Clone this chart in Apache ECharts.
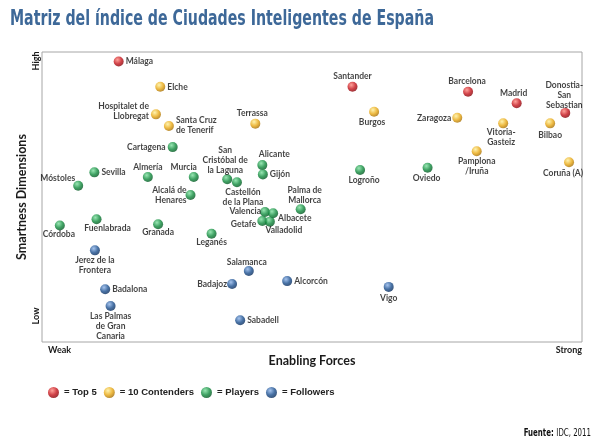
<!DOCTYPE html>
<html><head><meta charset="utf-8">
<script src="https://cdn.jsdelivr.net/npm/echarts@6/dist/echarts.min.js"></script>
<style>html,body{margin:0;padding:0;background:#fff}#c{width:600px;height:443px}</style>
</head><body><div id="c"></div>
<script>
// ---- data (x = Enabling Forces 0..10, y = Smartness Dimensions 0..10) ----
const seriesNames = ['Top 5', '10 Contenders', 'Players', 'Followers'];

const top5Cities = ['Málaga', 'Santander', 'Barcelona', 'Madrid', 'Donostia-\nSan\nSebastian'];
const top5X = [1.42, 5.75, 7.89, 8.79, 9.69];
const top5Y = [9.67, 8.80, 8.63, 8.23, 7.90];

const contenderCities = ['Elche', 'Hospitalet de\nLlobregat', 'Santa Cruz\nde Tenerif', 'Terrassa', 'Burgos',
  'Zaragoza', 'Vitoria-\nGasteiz', 'Bilbao', 'Pamplona\n/Iruña', 'Coruña (A)'];
const contenderX = [2.19, 2.11, 2.35, 3.95, 6.15, 7.69, 8.54, 9.41, 8.05, 9.76];
const contenderY = [8.80, 7.85, 7.45, 7.53, 7.94, 7.73, 7.54, 7.54, 6.58, 6.20];

const playerCities = ['Cartagena', 'Sevilla', 'Móstoles', 'Almería', 'Murcia', 'Alcalá de\nHenares',
  'San\nCristóbal de\nla Laguna', 'Castellón\nde la Plana', 'Alicante', 'Gijón', 'Palma de\nMallorca',
  'Valencia', 'Albacete', 'Getafe', 'Valladolid', 'Granada', 'Leganés', 'Córdoba', 'Fuenlabrada',
  'Logroño', 'Oviedo'];
const playerX = [2.42, 0.97, 0.67, 1.96, 2.81, 2.75, 3.43, 3.61, 4.08, 4.09, 4.79,
  4.13, 4.28, 4.08, 4.22, 2.15, 3.14, 0.33, 1.01, 5.89, 7.14];
const playerY = [6.72, 5.85, 5.39, 5.69, 5.69, 5.07, 5.61, 5.51, 6.10, 5.78, 4.58,
  4.48, 4.44, 4.17, 4.15, 4.06, 3.73, 4.02, 4.23, 5.93, 6.01];

const followerCities = ['Jerez de la\nFrontera', 'Badalona', 'Las Palmas\nde Gran\nCanaria', 'Salamanca',
  'Badajoz', 'Alcorcón', 'Sabadell', 'Vigo'];
const followerX = [0.98, 1.17, 1.27, 3.83, 3.52, 4.54, 3.67, 6.42];
const followerY = [3.16, 1.82, 1.24, 2.45, 2.00, 2.10, 0.75, 1.90];

// ---- label placement (style only) ----
const labelPlace = {
  'Málaga': ['right', 0, 0], 'Santander': ['top', 0, 1], 'Barcelona': ['top', -1, 2], 'Madrid': ['top', -3, 2],
  'Donostia-\nSan\nSebastian': ['top', -1, 4],
  'Elche': ['right', 0, 0], 'Hospitalet de\nLlobregat': ['left', 0, -3], 'Santa Cruz\nde Tenerif': ['right', 0, -1],
  'Terrassa': ['top', -3, 2], 'Burgos': ['bottom', -2, -1], 'Zaragoza': ['left', 1, 0],
  'Vitoria-\nGasteiz': ['bottom', -2, -3], 'Bilbao': ['bottom', 0, 0], 'Pamplona\n/Iruña': ['bottom', 0, -2],
  'Coruña (A)': ['bottom', -6, -1],
  'Cartagena': ['left', 0, 0], 'Sevilla': ['right', 0, 0], 'Móstoles': ['left', 4, -7], 'Almería': ['top', 0, 2],
  'Murcia': ['top', -10, 2], 'Alcalá de\nHenares': ['left', 3, 0], 'San\nCristóbal de\nla Laguna': ['top', -2, 3],
  'Castellón\nde la Plana': ['bottom', 6, -2], 'Alicante': ['top', 12, 1], 'Gijón': ['right', 0, 0],
  'Palma de\nMallorca': ['top', 4, 3], 'Valencia': ['left', 3, -1], 'Albacete': ['right', -2, 5],
  'Getafe': ['left', 1, 3], 'Valladolid': ['bottom', 14, -3], 'Granada': ['bottom', 0, -4],
  'Leganés': ['bottom', 0, -4], 'Córdoba': ['bottom', -1, -3], 'Fuenlabrada': ['bottom', 11, -3],
  'Logroño': ['bottom', 4, -2], 'Oviedo': ['bottom', -1, -1],
  'Jerez de la\nFrontera': ['bottom', 0, -2], 'Badalona': ['right', 0, 0],
  'Las Palmas\nde Gran\nCanaria': ['bottom', 0, -2], 'Salamanca': ['top', -2, 3], 'Badajoz': ['left', 2, 0],
  'Alcorcón': ['right', 0, 0], 'Sabadell': ['right', 0, 0], 'Vigo': ['bottom', 0, -1]
};

const palette = [
  ['#ff8a80', '#c4121a', '#7a0006'],
  ['#fff09a', '#e8a712', '#9a6400'],
  ['#7fe0a0', '#0f8a3c', '#004d1c'],
  ['#8fb5ea', '#1a4e8e', '#062652']
];
function sphere(i) {
  return { type: 'radial', x: 0.38, y: 0.32, r: 0.75,
    colorStops: [{ offset: 0, color: palette[i][0] }, { offset: 0.55, color: palette[i][1] }, { offset: 1, color: palette[i][2] }] };
}

const groups = [[top5Cities, top5X, top5Y], [contenderCities, contenderX, contenderY],
  [playerCities, playerX, playerY], [followerCities, followerX, followerY]];

const labelFont = { fontFamily: 'Lato', fontWeight: 'bold', fontSize: 8.5, color: '#111', lineHeight: 10 };

const series = groups.map((g, i) => ({
  name: seriesNames[i],
  type: 'scatter',
  symbol: 'circle',
  symbolSize: 10,
  itemStyle: { color: sphere(i) },
  label: Object.assign({ show: true, distance: 2, formatter: p => p.name }, labelFont),
  data: g[0].map((n, k) => {
    const lp = labelPlace[n] || ['right', 0, 0];
    return { name: n, value: [g[1][k], g[2][k]], label: { position: lp[0], offset: [lp[1], lp[2]] } };
  })
}));

const chart = echarts.init(document.getElementById('c'), null, { renderer: 'canvas' });
chart.setOption({
  animation: false,
  backgroundColor: '#fff',
  grid: { left: 42, top: 52, right: 18, bottom: 101, show: true, borderColor: '#a6a6a6', borderWidth: 1, backgroundColor: 'transparent' },
  xAxis: {
    type: 'value', min: 0, max: 10,
    name: 'Enabling Forces', nameLocation: 'middle', nameGap: 12,
    nameTextStyle: { fontFamily: 'Lato', fontWeight: 'bold', fontSize: 12.5, color: '#1a1a1a' },
    axisLine: { show: false }, axisTick: { show: false }, axisLabel: { show: false }, splitLine: { show: false }
  },
  yAxis: {
    type: 'value', min: 0, max: 10,
    name: 'Smartness Dimensions', nameLocation: 'middle', nameGap: 14,
    nameTextStyle: { fontFamily: 'Lato', fontWeight: 'bold', fontSize: 12.5, color: '#1a1a1a' },
    axisLine: { show: false }, axisTick: { show: false }, axisLabel: { show: false }, splitLine: { show: false }
  },
  legend: {
    left: 43, top: 382,
    icon: 'circle', itemWidth: 11, itemHeight: 11, itemGap: 7,
    formatter: n => '= ' + n,
    textStyle: { fontFamily: 'Liberation Sans', fontWeight: 'bold', fontSize: 9.5, color: '#222' },
    data: seriesNames
  },
  graphic: [
    { type: 'text', x: 10, y: 20, scaleX: 0.75, style: { text: 'Matriz del índice de Ciudades Inteligentes de España',
        font: 'bold 21px "DejaVu Sans Condensed"', fill: '#3d6898', align: 'left', verticalAlign: 'middle' } },
    { type: 'text', x: 36, y: 61, rotation: Math.PI / 2, style: { text: 'High', font: 'bold 9px Lato', fill: '#1a1a1a', align: 'center', verticalAlign: 'middle' } },
    { type: 'text', x: 36, y: 316, rotation: Math.PI / 2, style: { text: 'Low', font: 'bold 9px Lato', fill: '#1a1a1a', align: 'center', verticalAlign: 'middle' } },
    { type: 'text', x: 48, y: 350, style: { text: 'Weak', font: 'bold 9px Lato', fill: '#1a1a1a', align: 'left', verticalAlign: 'middle' } },
    { type: 'text', x: 582, y: 350, style: { text: 'Strong', font: 'bold 9px Lato', fill: '#1a1a1a', align: 'right', verticalAlign: 'middle' } },
    { type: 'text', x: 591, y: 433, scaleX: 0.78, style: {
        text: '{b|Fuente:} {n|IDC, 2011}', align: 'right', verticalAlign: 'middle',
        rich: { b: { fontFamily: 'DejaVu Sans Condensed', fontWeight: 'bold', fontSize: 10, fill: '#111' },
                n: { fontFamily: 'DejaVu Sans Condensed', fontSize: 10, fill: '#111' } } } }
  ],
  series: series
});
</script>
</body></html>
